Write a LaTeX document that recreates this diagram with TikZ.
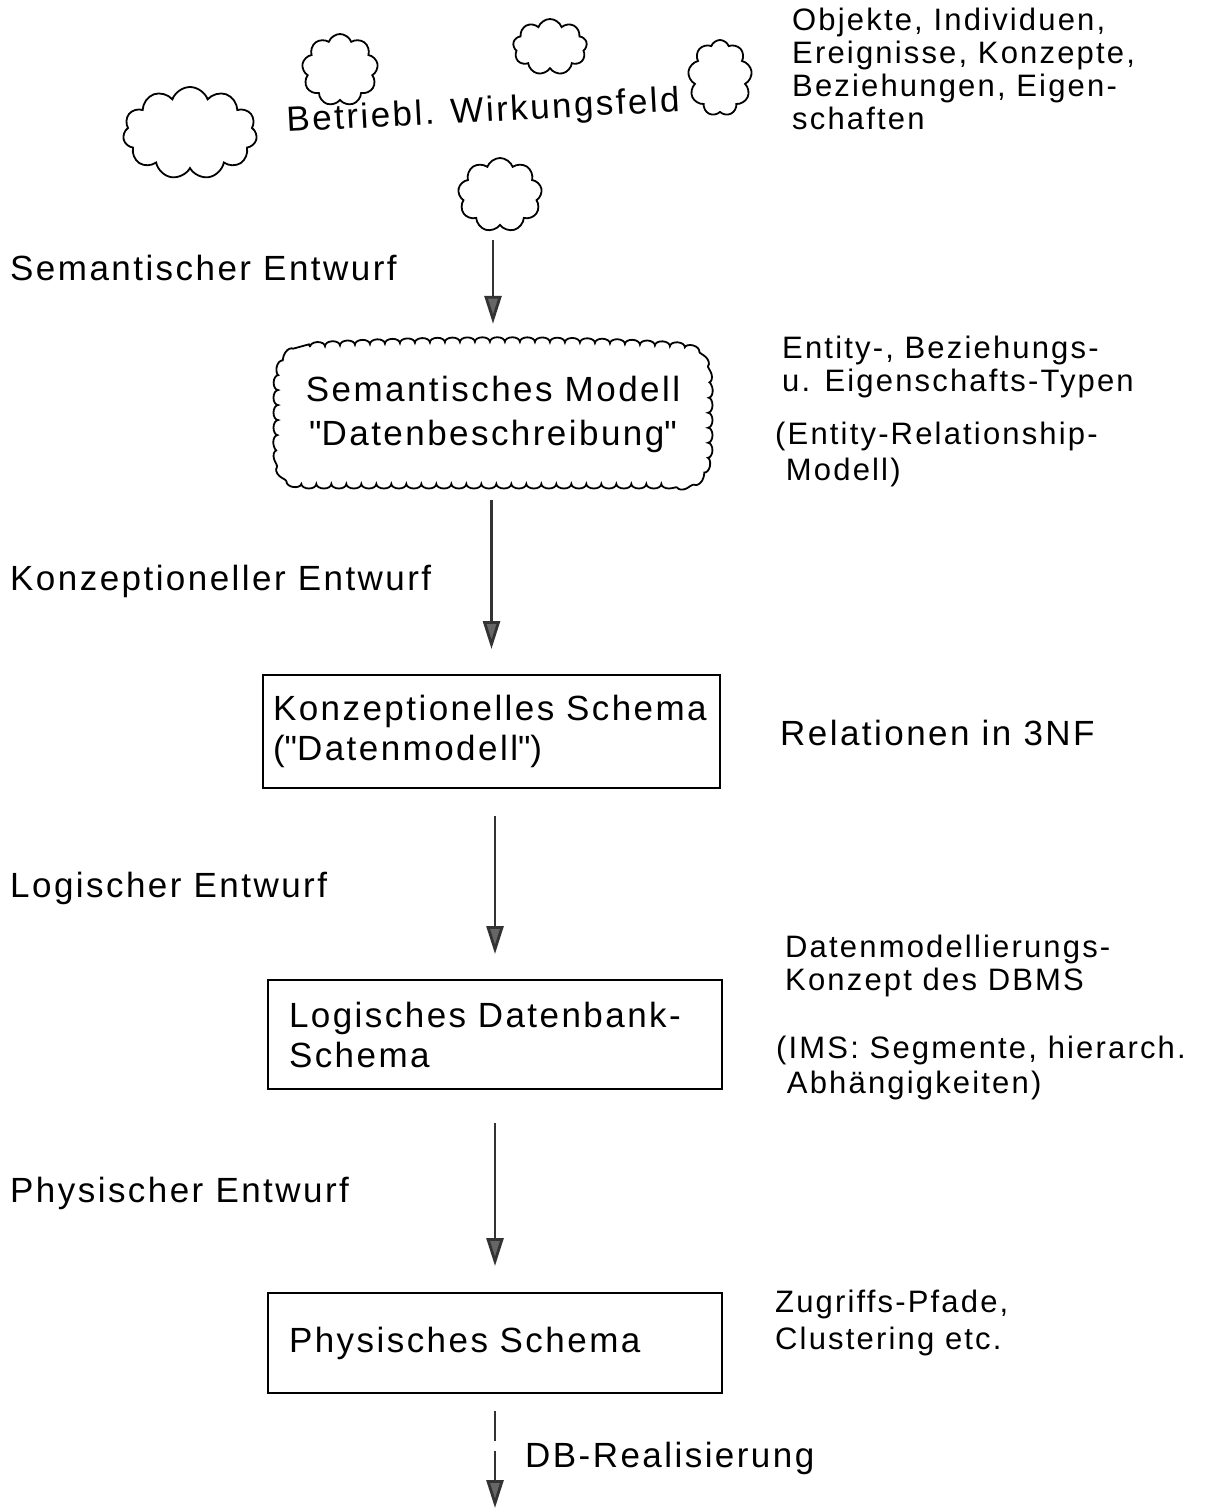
\documentclass[tikz,border=0pt]{standalone}
\usepackage{fontspec}
\setmainfont[LetterSpace=7]{Liberation Sans}
\usetikzlibrary{arrows.meta,shapes.symbols,decorations.pathmorphing,calc}

\begin{document}
\begin{tikzpicture}[x=1pt,y=-1pt,
  puff/.style={cloud, cloud puffs=9, cloud puff arc=140, cloud ignores aspect,
               draw, line width=1.8pt, inner sep=0pt},
  hand/.style={font=\fontsize{35}{40}\selectfont, inner sep=0pt, anchor=base west},
  note/.style={font=\fontsize{31}{33}\selectfont, inner sep=0pt, anchor=north west, align=left},
  stage/.style={draw, line width=2pt, inner sep=0pt, align=left,
                font=\fontsize{35}{40}\selectfont},
  wavy/.style={line width=1.8pt, decorate,
               decoration={bumps, segment length=30pt, amplitude=4.5pt}},
  flow/.style={line width=2.8pt, draw=black!80,
               -{Triangle[length=28pt,width=17pt,fill=black!60]}},
]
\useasboundingbox (0,0) rectangle (1206,1510);

% clouds of the business field
\node[puff, cloud puffs=11, minimum width=134pt, minimum height=92pt] (clA) at (190,133) {};
\node[puff, minimum width=76pt, minimum height=72pt] (clB) at (340,70) {};
\node[puff, minimum width=74pt, minimum height=56pt] (clC) at (550,47) {};
\node[puff, minimum width=64pt, minimum height=76pt] (clD) at (720,78) {};
\node[puff, minimum width=84pt, minimum height=74pt] (clE) at (500,195) {};
\node[hand, rotate=3] (field) at (287,132) {Betriebl. Wirkungsfeld};

\node[note] (objs) at (792,8) {Objekte, Individuen,\\Ereignisse, Konzepte,\\Beziehungen, Eigen-\\schaften};

% semantic model with its scalloped outline
\node[hand] (semdes) at (10,280) {Semantischer Entwurf};
\node[minimum width=430pt, minimum height=140pt, inner sep=0pt,
      align=center, font=\fontsize{35}{44}\selectfont] (sem) at (493,414)
      {Semantisches Modell\\\textquotedbl Datenbeschreibung\textquotedbl};
\draw[wavy, shift={(sem.center)}]
  (-183,-67) .. controls (-70,-74) and (90,-74) .. (187,-67)
  .. controls (210,-64) and (215,-45) .. (215,-20)
  -- (215,28)
  .. controls (215,55) and (207,69) .. (187,70)
  -- (-188,70)
  .. controls (-208,69) and (-215,55) .. (-215,30)
  -- (-215,-22)
  .. controls (-215,-50) and (-205,-64) .. (-183,-67) -- cycle;
\node[note] (ertyp) at (782,336) {Entity-, Beziehungs-\\u. Eigenschafts-Typen};
\node[note, font=\fontsize{31}{36}\selectfont] (ermod) at (775,422) {(Entity-Relationship-\\\ Modell)};

% conceptual schema
\node[hand] (kondes) at (10,590) {Konzeptioneller Entwurf};
\node[stage, minimum width=457pt, minimum height=113pt, text width=437pt] (kon) at (491.5,731.5)
      {Konzeptionelles Schema\\(\textquotedbl Datenmodell\textquotedbl)};
\node[hand] (rel) at (780,745) {Relationen in 3NF};

% logical schema
\node[hand] (logdes) at (10,897) {Logischer Entwurf};
\node[stage, minimum width=454pt, minimum height=109pt, text width=412pt] (log) at (495,1034.5)
      {Logisches Datenbank-\\Schema};
\node[note] (dbms) at (785,935) {Datenmodellierungs-\\Konzept des DBMS};
\node[note, font=\fontsize{31}{35}\selectfont] (ims) at (776,1036) {(IMS: Segmente, hierarch.\\\ Abhängigkeiten)};

% physical schema
\node[hand] (phydes) at (10,1202) {Physischer Entwurf};
\node[stage, minimum width=454pt, minimum height=100pt, text width=412pt] (phy) at (495,1343)
      {Physisches Schema};
\node[note, font=\fontsize{31}{37}\selectfont] (acc) at (775,1290) {Zugriffs-Pfade,\\Clustering etc.};

% realisation
\coordinate (db) at (495,1508);
\node[hand] (real) at (525,1467) {DB-Realisierung};

% design steps
\draw[flow, shorten <=14pt, shorten >=20pt] (clE.south -| sem.north) -- (sem.north);
\draw[flow, shorten <=16pt, shorten >=25pt] (sem.south -| kon.north) -- (kon.north);
\draw[flow, shorten <=27pt, shorten >=25pt] (kon.south -| log.north) -- (log.north);
\draw[flow, shorten <=33pt, shorten >=26pt] (log.south) -- (phy.north);
\draw[flow, dash pattern=on 30pt off 10pt, shorten <=17pt] (phy.south) -- (db);
\end{tikzpicture}
\end{document}
